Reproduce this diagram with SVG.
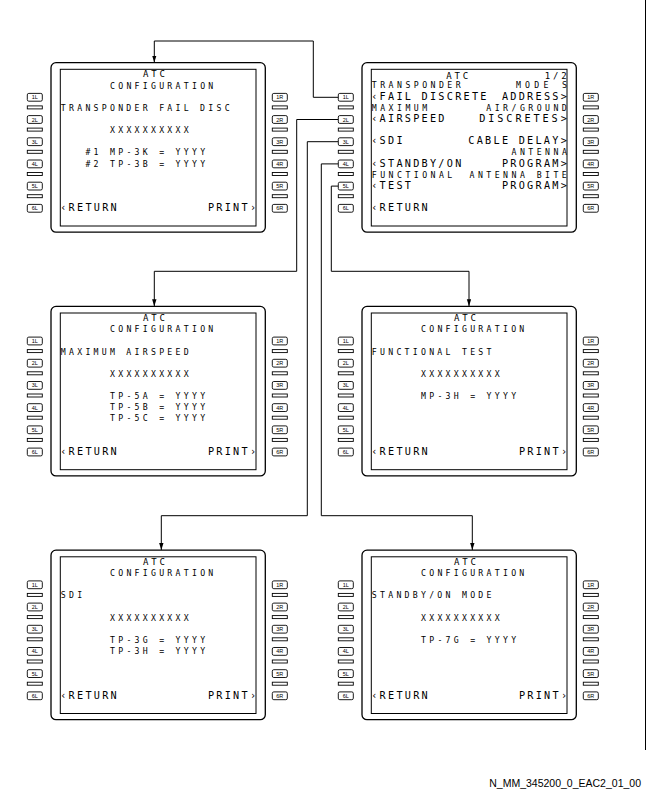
<svg xmlns="http://www.w3.org/2000/svg" width="648" height="792" viewBox="0 0 648 792">
<style>
.bg{fill:#fff}
.bz{fill:#fff;stroke:#000;stroke-width:1.3}
.sc{fill:none;stroke:#000;stroke-width:1}
.bt{fill:#fff;stroke:#000;stroke-width:0.9}
.bl{font-family:"Liberation Sans",Arial,sans-serif;font-size:5.5px;text-anchor:middle;fill:#000}
.t,.s,.m,.l{font-family:"DejaVu Sans Mono","Liberation Mono",monospace;fill:#000}
.t{font-size:9px;letter-spacing:2.832px}
.s{font-size:8.2px;letter-spacing:3.264px}
.m{font-size:8.2px;letter-spacing:3.464px}
.l{font-size:10.2px;letter-spacing:2.26px}
.cn{fill:none;stroke:#000;stroke-width:1}
.ft{font-family:"Liberation Sans",Arial,sans-serif;font-size:10.5px;fill:#000;text-anchor:end}
</style>
<defs>
<marker id="ah" markerUnits="userSpaceOnUse" markerWidth="8" markerHeight="6" refX="7" refY="2.2" orient="auto"><path d="M0,0L7,2.2L0,4.4z" fill="#000"/></marker>
<g id="cdu">
<rect class="bz" x="51" y="62.7" width="214.3" height="169.5" rx="5"/>
<rect class="sc" x="60.3" y="69.3" width="195.7" height="156.7"/>
<g class="bt">
<rect x="27.3" y="93.4" width="15" height="7.8" rx="1.5"/>
<rect x="27.3" y="115.6" width="15" height="7.8" rx="1.5"/>
<rect x="27.3" y="137.8" width="15" height="7.8" rx="1.5"/>
<rect x="27.3" y="160" width="15" height="7.8" rx="1.5"/>
<rect x="27.3" y="182.2" width="15" height="7.8" rx="1.5"/>
<rect x="27.3" y="204.4" width="15" height="7.8" rx="1.5"/>
<rect x="27.3" y="105.9" width="15" height="3"/>
<rect x="27.3" y="128.1" width="15" height="3"/>
<rect x="27.3" y="150.3" width="15" height="3"/>
<rect x="27.3" y="172.5" width="15" height="3"/>
<rect x="27.3" y="194.7" width="15" height="3"/>
<rect x="272.3" y="93.4" width="15" height="7.8" rx="1.5"/>
<rect x="272.3" y="115.6" width="15" height="7.8" rx="1.5"/>
<rect x="272.3" y="137.8" width="15" height="7.8" rx="1.5"/>
<rect x="272.3" y="160" width="15" height="7.8" rx="1.5"/>
<rect x="272.3" y="182.2" width="15" height="7.8" rx="1.5"/>
<rect x="272.3" y="204.4" width="15" height="7.8" rx="1.5"/>
<rect x="272.3" y="105.9" width="15" height="3"/>
<rect x="272.3" y="128.1" width="15" height="3"/>
<rect x="272.3" y="150.3" width="15" height="3"/>
<rect x="272.3" y="172.5" width="15" height="3"/>
<rect x="272.3" y="194.7" width="15" height="3"/>
</g>
<g class="bl">
<text x="34.8" y="99.3">1L</text><text x="34.8" y="121.5">2L</text><text x="34.8" y="143.7">3L</text>
<text x="34.8" y="165.9">4L</text><text x="34.8" y="188.1">5L</text><text x="34.8" y="210.3">6L</text>
<text x="279.8" y="99.3">1R</text><text x="279.8" y="121.5">2R</text><text x="279.8" y="143.7">3R</text>
<text x="279.8" y="165.9">4R</text><text x="279.8" y="188.1">5R</text><text x="279.8" y="210.3">6R</text>
</g>
</g>
</defs>
<rect class="bg" x="0" y="0" width="648" height="792"/>

<g id="connectors">
<path class="cn" d="M338.3 97.3H313.3V41H154.3V62.5" marker-end="url(#ah)"/>
<path class="cn" d="M338.3 119.5H296.7V271.3H154.3V306.2" marker-end="url(#ah)"/>
<path class="cn" d="M338.3 141.7H307.3V515.7H161.3V550" marker-end="url(#ah)"/>
<path class="cn" d="M338.3 163.9H321.3V515.7H472.3V550" marker-end="url(#ah)"/>
<path class="cn" d="M338.3 186.1H331.3V271.3H469V306.2" marker-end="url(#ah)"/>
</g>

<g id="screen-transponder-fail-disc">
<use href="#cdu"/>
<text class="t" x="143.09" y="77.4">ATC</text>
<text class="s" x="110.03" y="88.55">CONFIGURATION</text>
<text class="s" x="60.83" y="110.85">TRANSPONDER FAIL DISC</text>
<text class="s" x="110.03" y="133.15">XXXXXXXXXX</text>
<text class="s" x="85.43" y="155.45">#1 MP-3K = YYYY</text>
<text class="s" x="85.43" y="166.6">#2 TP-3B = YYYY</text>
<text class="l" x="60.23" y="211.2">‹RETURN</text>
<text class="l" x="207.93" y="211.2">PRINT›</text>
</g>

<g id="screen-atc-config-main" transform="translate(311,0)">
<use href="#cdu"/>
<text class="t" x="135.29" y="79">ATC</text>
<text class="t" x="233.79" y="79">1/2</text>
<text class="m" x="60.83" y="88">TRANSPONDER</text>
<text class="m" x="204.93" y="88" style="letter-spacing:4.264px">MODE S</text>
<text class="l" x="60.23" y="99.7">‹FAIL DISCRETE</text>
<text class="l" x="190.93" y="99.7">ADDRESS&gt;</text>
<text class="m" x="60.83" y="110.85">MAXIMUM</text>
<text class="m" x="175.33" y="110.85">AIR/GROUND</text>
<text class="l" x="60.23" y="122">‹AIRSPEED</text>
<text class="l" x="168.19" y="122" style="letter-spacing:2.92px">DISCRETES&gt;</text>
<text class="l" x="60.23" y="144.3">‹SDI</text>
<text class="l" x="157.33" y="144.3">CABLE DELAY&gt;</text>
<text class="m" x="200.53" y="155.45">ANTENNA</text>
<text class="l" x="60.23" y="166.6">‹STANDBY/ON</text>
<text class="l" x="190.93" y="166.6">PROGRAM&gt;</text>
<text class="m" x="60.83" y="177.75">FUNCTIONAL</text>
<text class="m" x="158.53" y="177.75">ANTENNA BITE</text>
<text class="l" x="60.23" y="188.9">‹TEST</text>
<text class="l" x="190.93" y="188.9">PROGRAM&gt;</text>
<text class="l" x="60.23" y="211.2">‹RETURN</text>
</g>

<g id="screen-maximum-airspeed" transform="translate(0,243.7)">
<use href="#cdu"/>
<text class="t" x="143.09" y="77.4">ATC</text>
<text class="s" x="110.03" y="88.55">CONFIGURATION</text>
<text class="s" x="60.83" y="110.85">MAXIMUM AIRSPEED</text>
<text class="s" x="110.03" y="133.15">XXXXXXXXXX</text>
<text class="s" x="110.03" y="155.45">TP-5A = YYYY</text>
<text class="s" x="110.03" y="166.6">TP-5B = YYYY</text>
<text class="s" x="110.03" y="177.75">TP-5C = YYYY</text>
<text class="l" x="60.23" y="211.2">‹RETURN</text>
<text class="l" x="207.93" y="211.2">PRINT›</text>
</g>

<g id="screen-functional-test" transform="translate(311,243.7)">
<use href="#cdu"/>
<text class="t" x="143.09" y="77.4">ATC</text>
<text class="s" x="110.03" y="88.55">CONFIGURATION</text>
<text class="s" x="60.83" y="110.85">FUNCTIONAL TEST</text>
<text class="s" x="110.03" y="133.15">XXXXXXXXXX</text>
<text class="s" x="110.03" y="155.45">MP-3H = YYYY</text>
<text class="l" x="60.23" y="211.2">‹RETURN</text>
<text class="l" x="207.93" y="211.2">PRINT›</text>
</g>

<g id="screen-sdi" transform="translate(0,487.5)">
<use href="#cdu"/>
<text class="t" x="143.09" y="77.4">ATC</text>
<text class="s" x="110.03" y="88.55">CONFIGURATION</text>
<text class="s" x="60.83" y="110.85">SDI</text>
<text class="s" x="110.03" y="133.15">XXXXXXXXXX</text>
<text class="s" x="110.03" y="155.45">TP-3G = YYYY</text>
<text class="s" x="110.03" y="166.6">TP-3H = YYYY</text>
<text class="l" x="60.23" y="211.2">‹RETURN</text>
<text class="l" x="207.93" y="211.2">PRINT›</text>
</g>

<g id="screen-standby-on-mode" transform="translate(311,487.5)">
<use href="#cdu"/>
<text class="t" x="143.09" y="77.4">ATC</text>
<text class="s" x="110.03" y="88.55">CONFIGURATION</text>
<text class="s" x="60.83" y="110.85">STANDBY/ON MODE</text>
<text class="s" x="110.03" y="133.15">XXXXXXXXXX</text>
<text class="s" x="110.03" y="155.45">TP-7G = YYYY</text>
<text class="l" x="60.23" y="211.2">‹RETURN</text>
<text class="l" x="207.93" y="211.2">PRINT›</text>
</g>

<line x1="645.5" y1="0" x2="645.5" y2="750" stroke="#000" stroke-width="1"/>
<text class="ft" x="641" y="787">N_MM_345200_0_EAC2_01_00</text>
</svg>
